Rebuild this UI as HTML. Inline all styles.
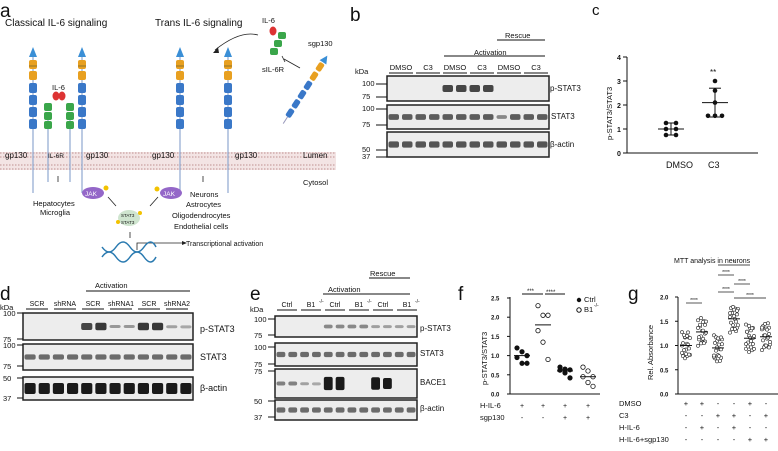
<!DOCTYPE html>
<html><head><meta charset="utf-8"><style>
body{margin:0;background:#fff}
svg text{font-family:"Liberation Sans",Arial,sans-serif;fill:#111}
</style></head><body>
<svg id="s" width="778" height="446" viewBox="0 0 778 446" xmlns="http://www.w3.org/2000/svg">
<rect width="778" height="446" fill="#fff"/>
<!-- panel a -->
<text x="0" y="17" font-size="19">a</text>
<text x="5" y="26" font-size="10">Classical IL-6 signaling</text>
<text x="155" y="26" font-size="10">Trans IL-6 signaling</text>
<rect x="0" y="152" width="336" height="18" fill="#f3e4e4"/>
<g stroke="#c9a0a0" stroke-width="1.2" stroke-dasharray="1.5 1.5">
<line x1="0" y1="153" x2="336" y2="153"/><line x1="0" y1="157" x2="336" y2="157"/>
<line x1="0" y1="165" x2="336" y2="165"/><line x1="0" y1="169" x2="336" y2="169"/></g>
<g id="rec"></g>
<text x="5" y="158" font-size="8">gp130</text><text x="48" y="158" font-size="6.5">IL-6R</text>
<text x="86" y="158" font-size="8">gp130</text><text x="152" y="158" font-size="8">gp130</text>
<text x="235" y="158" font-size="8">gp130</text><text x="303" y="158" font-size="8">Lumen</text>
<text x="303" y="185" font-size="7.5">Cytosol</text>
<text x="33" y="206" font-size="7.5">Hepatocytes</text><text x="40" y="215" font-size="7.5">Microglia</text>
<text x="190" y="197" font-size="7.5">Neurons</text><text x="186" y="207" font-size="7.5">Astrocytes</text>
<text x="172" y="218" font-size="7.5">Oligodendrocytes</text><text x="174" y="229" font-size="7.5">Endothelial cells</text>
<text x="52" y="90" font-size="7.5">IL-6</text>
<ellipse cx="56" cy="96" rx="3.5" ry="4.5" fill="#d33"/><ellipse cx="62" cy="96" rx="3.5" ry="4.5" fill="#d33"/>
<ellipse cx="93" cy="193" rx="11" ry="6" fill="#9467c8"/><text x="85" y="196" font-size="6.5" style="fill:#fff">JAK</text>
<ellipse cx="171" cy="193" rx="11" ry="6" fill="#9467c8"/><text x="163" y="196" font-size="6.5" style="fill:#fff">JAK</text>
<circle cx="106" cy="188" r="2.5" fill="#f2c200"/><circle cx="157" cy="189" r="2.5" fill="#f2c200"/>
<ellipse cx="129" cy="218" rx="11" ry="8" fill="#cfe5cf"/>
<text x="121" y="217" font-size="4.5">STAT3</text><text x="121" y="224" font-size="4.5">STAT3</text>
<circle cx="140" cy="213" r="2" fill="#f2c200"/><circle cx="118" cy="222" r="2" fill="#f2c200"/>
<g stroke="#222" stroke-width="0.8" fill="none">
<line x1="58" y1="176" x2="58" y2="182"/><line x1="203" y1="176" x2="203" y2="182"/>
<line x1="108" y1="197" x2="116" y2="206"/><line x1="158" y1="197" x2="150" y2="206"/>
<line x1="130" y1="232" x2="130" y2="238"/><polyline points="137,250 137,243 183,243"/>
<path d="M258 35 Q240 30 215 50"/><line x1="300" y1="68" x2="284" y2="59"/><line x1="282" y1="56" x2="285" y2="62"/>
</g>
<path d="M182 241 L187 243 L182 245Z" fill="#222"/><path d="M213 53 L218 47 L219 53Z" fill="#222"/>
<g stroke="#2a7ab0" stroke-width="1.5" fill="none">
<path d="M102 247 q7 10 14 0 t14 0 t14 0 t12 0"/><path d="M102 257 q7 -10 14 0 t14 0 t14 0 t12 0"/></g>
<text x="186" y="246" font-size="7">Transcriptional activation</text>
<text x="262" y="23" font-size="7.5">IL-6</text><ellipse cx="273" cy="31" rx="3.5" ry="4.5" fill="#d33"/>
<rect x="278" y="32" width="8" height="7" rx="2" fill="#3aa64a"/><rect x="274" y="40" width="8" height="7" rx="2" fill="#3aa64a"/><rect x="270" y="48" width="8" height="7" rx="2" fill="#3aa64a"/>
<text x="262" y="72" font-size="7.5">sIL-6R</text><text x="308" y="46" font-size="7.5">sgp130</text>
<g transform="rotate(33 305 90)"><rect x="302" y="58" width="6" height="9" rx="2" fill="#e8a020"/><rect x="302" y="69" width="6" height="9" rx="2" fill="#e8a020"/>
<rect x="302" y="80" width="6" height="9" rx="2" fill="#3a78c8"/><rect x="302" y="91" width="6" height="9" rx="2" fill="#3a78c8"/><rect x="302" y="102" width="6" height="9" rx="2" fill="#3a78c8"/><rect x="302" y="113" width="6" height="9" rx="2" fill="#3a78c8"/>
<path d="M301 57 L305 49 L309 57Z" fill="#3a8fd6"/><line x1="305" y1="122" x2="305" y2="130" stroke="#99b" /></g>
<!-- panel b -->
<text x="350" y="21" font-size="19">b</text>
<text x="355" y="74" font-size="7.5">kDa</text>
<g id="b"></g>
<text x="505" y="38" font-size="7.5">Rescue</text><line x1="497" y1="40" x2="545" y2="40" stroke="#111"/>
<text x="474" y="55" font-size="7.5">Activation</text><line x1="444" y1="56" x2="545" y2="56" stroke="#111"/>
<text x="550" y="91" font-size="8">p-STAT3</text><text x="551" y="119" font-size="8">STAT3</text><text x="550" y="147" font-size="8">β-actin</text>
<!-- panel c -->
<text x="592" y="15" font-size="15">c</text>
<g id="c"></g>
<!-- panel d/e -->
<text x="0" y="300" font-size="19">d</text><text x="250" y="300" font-size="19">e</text><text x="458" y="300" font-size="19">f</text><text x="628" y="300" font-size="19">g</text>
<g id="d"></g>
<text x="95" y="288" font-size="7.5">Activation</text><line x1="86" y1="291" x2="190" y2="291" stroke="#111"/>
<text x="0" y="310" font-size="7.5">kDa</text>
<text x="200" y="332" font-size="9">p-STAT3</text><text x="200" y="360" font-size="9">STAT3</text><text x="200" y="391" font-size="9">β-actin</text>
<text x="370" y="276" font-size="7.5">Rescue</text><line x1="369" y1="278" x2="410" y2="278" stroke="#111"/>
<text x="328" y="292" font-size="7.5">Activation</text><line x1="323" y1="294" x2="410" y2="294" stroke="#111"/>
<text x="250" y="312" font-size="7.5">kDa</text>
<text x="420" y="331" font-size="8">p-STAT3</text><text x="420" y="356" font-size="8">STAT3</text><text x="420" y="385" font-size="8">BACE1</text><text x="420" y="411" font-size="8">β-actin</text>
<text x="674" y="263" font-size="7">MTT analysis in neurons</text>
</svg>
<script>
var s=document.getElementById('s'),NS='http://www.w3.org/2000/svg';
function el(t,a,p,txt){var e=document.createElementNS(NS,t);for(var k in a)e.setAttribute(k,a[k]);if(txt!=null)e.textContent=txt;(p||s).appendChild(e);return e}
var rg=document.getElementById('rec');
[33,82,180,228].forEach(function(x){
 el('line',{x1:x,y1:56,x2:x,y2:193,stroke:'#8fa8d0','stroke-width':1.2},rg);
 el('path',{d:'M'+(x-4)+' 57 L'+x+' 47 L'+(x+4)+' 57Z',fill:'#3a8fd6'},rg);
 [60,71].forEach(function(y){el('rect',{x:x-4,y:y,width:8,height:9,rx:2,fill:'#e8a020'},rg)});
 el('line',{x1:x-4,y1:66,x2:x+4,y2:66,stroke:'#553','stroke-width':0.6},rg);
 [83,95,107,119].forEach(function(y){el('rect',{x:x-4,y:y,width:8,height:10,rx:2,fill:'#3a78c8'},rg)});
});
[48,70].forEach(function(x){el('line',{x1:x,y1:120,x2:x,y2:182,stroke:'#8fa8d0','stroke-width':1.2},rg);
 [103,112,121].forEach(function(y){el('rect',{x:x-4,y:y,width:8,height:8,rx:2,fill:'#3aa64a'},rg)})});
function blot(g,x0,x1,rows,n,fn){rows.forEach(function(r,ri){el('rect',{x:x0,y:r[0],width:x1-x0,height:r[1]-r[0],fill:'#ededed',stroke:'#222','stroke-width':1.5},g);
 var w=(x1-x0)/n;for(var i=0;i<n;i++){var d=fn(ri,i);if(d>0)el('rect',{x:x0+i*w+1.5,y:(r[0]+r[1])/2-d*3.5-1,width:w-3,height:Math.max(3,d*7+2),rx:2,fill:'#1a1a1a','fill-opacity':Math.min(1,.3+d*.7)},g)}})}
var bg=document.getElementById('b');
blot(bg,387,549,[[76,101],[105,129],[132,157]],12,function(r,i){if(r==0)return(i>=4&&i<8)?.7:0;return r==1?(i==8?.25:.55):.6});
[['100',84],['75',97],['100',109],['75',125],['50',150],['37',157]].forEach(function(m){el('text',{x:362,y:m[1]+2,'font-size':7.5},bg,m[0]);el('line',{x1:376,y1:m[1],x2:387,y2:m[1],stroke:'#111'},bg)});
['DMSO','C3','DMSO','C3','DMSO','C3'].forEach(function(t,i){var cx=401+i*27;el('text',{x:cx,y:70,'font-size':7.5,'text-anchor':'middle'},bg,t);el('line',{x1:cx-12,y1:73,x2:cx+12,y2:73,stroke:'#111'},bg)});
var cg=document.getElementById('c');
el('line',{x1:627,y1:57,x2:627,y2:153,stroke:'#111'},cg);el('line',{x1:627,y1:153,x2:758,y2:153,stroke:'#111'},cg);
for(var v=0;v<=4;v++){var y=153-v*24;el('line',{x1:623,y1:y,x2:627,y2:y,stroke:'#111'},cg);el('text',{x:617,y:y+3,'font-size':7,'font-weight':'bold'},cg,v)}
el('text',{transform:'translate(612,140) rotate(-90)','font-size':7.5},cg,'p-STAT3/STAT3');
el('text',{x:666,y:168,'font-size':9},cg,'DMSO');el('text',{x:708,y:168,'font-size':9},cg,'C3');
[[1.25,-5],[1.25,5],[1,-5],[1,5],[.75,-5],[.75,5]].forEach(function(p){el('circle',{cx:671+p[1],cy:153-p[0]*24,r:2.3,fill:'#111'},cg)});
[[3,0],[2.6,0],[2.1,0],[1.55,-7],[1.55,0],[1.55,7]].forEach(function(p){el('circle',{cx:715+p[1],cy:153-p[0]*24,r:2.3,fill:'#111'},cg)});
[[671,1,26],[671,1.25,14],[671,.75,14],[715,2.1,26],[715,2.7,12],[715,1.5,12]].forEach(function(l){var y=153-l[1]*24;el('line',{x1:l[0]-l[2]/2,y1:y,x2:l[0]+l[2]/2,y2:y,stroke:'#111'},cg)});
el('line',{x1:671,y1:123,x2:671,y2:135,stroke:'#111'},cg);el('line',{x1:715,y1:88,x2:715,y2:117,stroke:'#111'},cg);
el('text',{x:710,y:75,'font-size':8},cg,'**');
var dg=document.getElementById('d');
blot(dg,23,193,[[313,340],[344,370],[377,400]],12,function(r,i){if(r==0)return[0,0,0,0,.7,.8,.15,.15,.8,.8,.08,.04][i];return r==1?.45:1.3});
[['100',313],['75',339],['100',345],['75',366],['50',378],['37',398]].forEach(function(m){el('text',{x:3,y:m[1]+3,'font-size':7.5},dg,m[0]);el('line',{x1:17,y1:m[1],x2:23,y2:m[1],stroke:'#111'},dg)});
['SCR','shRNA','SCR','shRNA1','SCR','shRNA2'].forEach(function(t,i){var cx=37+i*28;el('text',{x:cx,y:306,'font-size':7,'text-anchor':'middle'},dg,t);el('line',{x1:cx-11,y1:309,x2:cx+11,y2:309,stroke:'#111'},dg)});
blot(dg,275,417,[[316,337],[343,366],[369,398],[400,420]],12,function(r,i){if(r==0)return(i>=4&&i<8)?.25:(i>=8?.1:0);if(r==2)return[.3,.3,.08,.04,1.6,1.6,0,0,1.5,1.3,0,0][i];return .45});
[['100',319],['75',335],['100',347],['75',364],['75',371],['50',401],['37',417]].forEach(function(m){el('text',{x:254,y:m[1]+3,'font-size':7.5},dg,m[0]);el('line',{x1:268,y1:m[1],x2:275,y2:m[1],stroke:'#111'},dg)});
['Ctrl','B1','Ctrl','B1','Ctrl','B1'].forEach(function(t,i){var cx=287+i*24;el('text',{x:cx,y:307,'font-size':7,'text-anchor':'middle'},dg,t);if(t=='B1'){el('text',{x:cx+8,y:303,'font-size':5},dg,'-/-')}el('line',{x1:cx-10,y1:310,x2:cx+10,y2:310,stroke:'#111'},dg)});
el('line',{x1:510,y1:297,x2:510,y2:394,stroke:'#111'});el('line',{x1:510,y1:394,x2:600,y2:394,stroke:'#111'});
for(var k=0;k<=5;k++){var y=394-k*19.2;el('line',{x1:507,y1:y,x2:510,y2:y,stroke:'#111'});el('text',{x:491,y:y+2.5,'font-size':6,'font-weight':'bold'},null,(k*.5).toFixed(1))}
el('text',{transform:'translate(487,385) rotate(-90)','font-size':7.5},null,'p-STAT3/STAT3');
var fx=[522,543,565,588];
[[1.2,1.1,1,.95,.8,.8],[2.3,2.05,2.05,1.65,1.35,.9],[.7,.65,.63,.62,.55,.42],[.7,.6,.45,.45,.3,.2]].forEach(function(a,ci){a.forEach(function(v,j){el('circle',{cx:fx[ci]+(j%3-1)*5,cy:394-v*38.4,r:2.2,fill:ci%2?'#fff':'#111',stroke:'#111','stroke-width':.8})})});
[[1,.95],[1.8,1.05],[.6,.55],[.45,.45]].forEach(function(m,ci){var y=394-m[0]*38.4;el('line',{x1:fx[ci]-8,y1:y,x2:fx[ci]+8,y2:y,stroke:'#111'})});
el('line',{x1:522,y1:294,x2:543,y2:294,stroke:'#111'});el('line',{x1:545,y1:294,x2:565,y2:294,stroke:'#111'});
el('text',{x:527,y:293,'font-size':6},null,'***');el('text',{x:546,y:294,'font-size':6},null,'****');
el('circle',{cx:579,cy:300,r:2.2,fill:'#111'});el('text',{x:584,y:302,'font-size':7.5},null,'Ctrl');
el('circle',{cx:579,cy:310,r:2.2,fill:'#fff',stroke:'#111'});el('text',{x:584,y:312,'font-size':7.5},null,'B1');el('text',{x:594,y:307,'font-size':5},null,'-/-');
el('text',{x:480,y:408,'font-size':7.5},null,'H-IL-6');el('text',{x:480,y:420,'font-size':7.5},null,'sgp130');
['+','+','+','+'].forEach(function(t,i){el('text',{x:fx[i],y:408,'font-size':7,'text-anchor':'middle'},null,t)});
['-','-','+','+'].forEach(function(t,i){el('text',{x:fx[i],y:420,'font-size':7,'text-anchor':'middle'},null,t)});
el('line',{x1:678,y1:297,x2:678,y2:394,stroke:'#111'});el('line',{x1:678,y1:394,x2:778,y2:394,stroke:'#111'});
for(var k=0;k<=4;k++){var y=394-k*24.25;el('line',{x1:675,y1:y,x2:678,y2:y,stroke:'#111'});el('text',{x:660,y:y+2.5,'font-size':6,'font-weight':'bold'},null,(k*.5).toFixed(1))}
el('text',{transform:'translate(653,380) rotate(-90)','font-size':7.5},null,'Rel. Absorbance');
var gx=[686,702,718,734,750,766],gm=[1,1.28,.95,1.55,1.15,1.18];
gx.forEach(function(x,ci){for(var j=0;j<22;j++){var v=gm[ci]+Math.sin(j*2.3+ci)*0.22*(j%3?1:1.3);el('circle',{cx:x+((j*7)%9-4),cy:394-v*48.5,r:1.6,fill:'#fff',stroke:'#222','stroke-width':.6})}
 el('line',{x1:x-6,y1:394-gm[ci]*48.5,x2:x+6,y2:394-gm[ci]*48.5,stroke:'#111'})});
[[686,702,303,'****'],[718,750,265,'*'],[718,734,275,'****'],[734,750,284,'****'],[718,734,292,'****'],[734,766,298,'****']].forEach(function(b){el('line',{x1:b[0],y1:b[2],x2:b[1],y2:b[2],stroke:'#111',"stroke-width":.7});el('text',{x:(b[0]+b[1])/2,y:b[2]-1,'font-size':5,'text-anchor':'middle'},null,b[3])});
[['DMSO',406,'++--+-'],['C3',418,'--++-+'],['H-IL-6',430,'-+-+--'],['H-IL-6+sgp130',442,'----++']].forEach(function(r){el('text',{x:619,y:r[1],'font-size':7.5},null,r[0]);r[2].split('').forEach(function(c,i){el('text',{x:gx[i],y:r[1],'font-size':7.5,'text-anchor':'middle'},null,c)})});
</script>
</body></html>
